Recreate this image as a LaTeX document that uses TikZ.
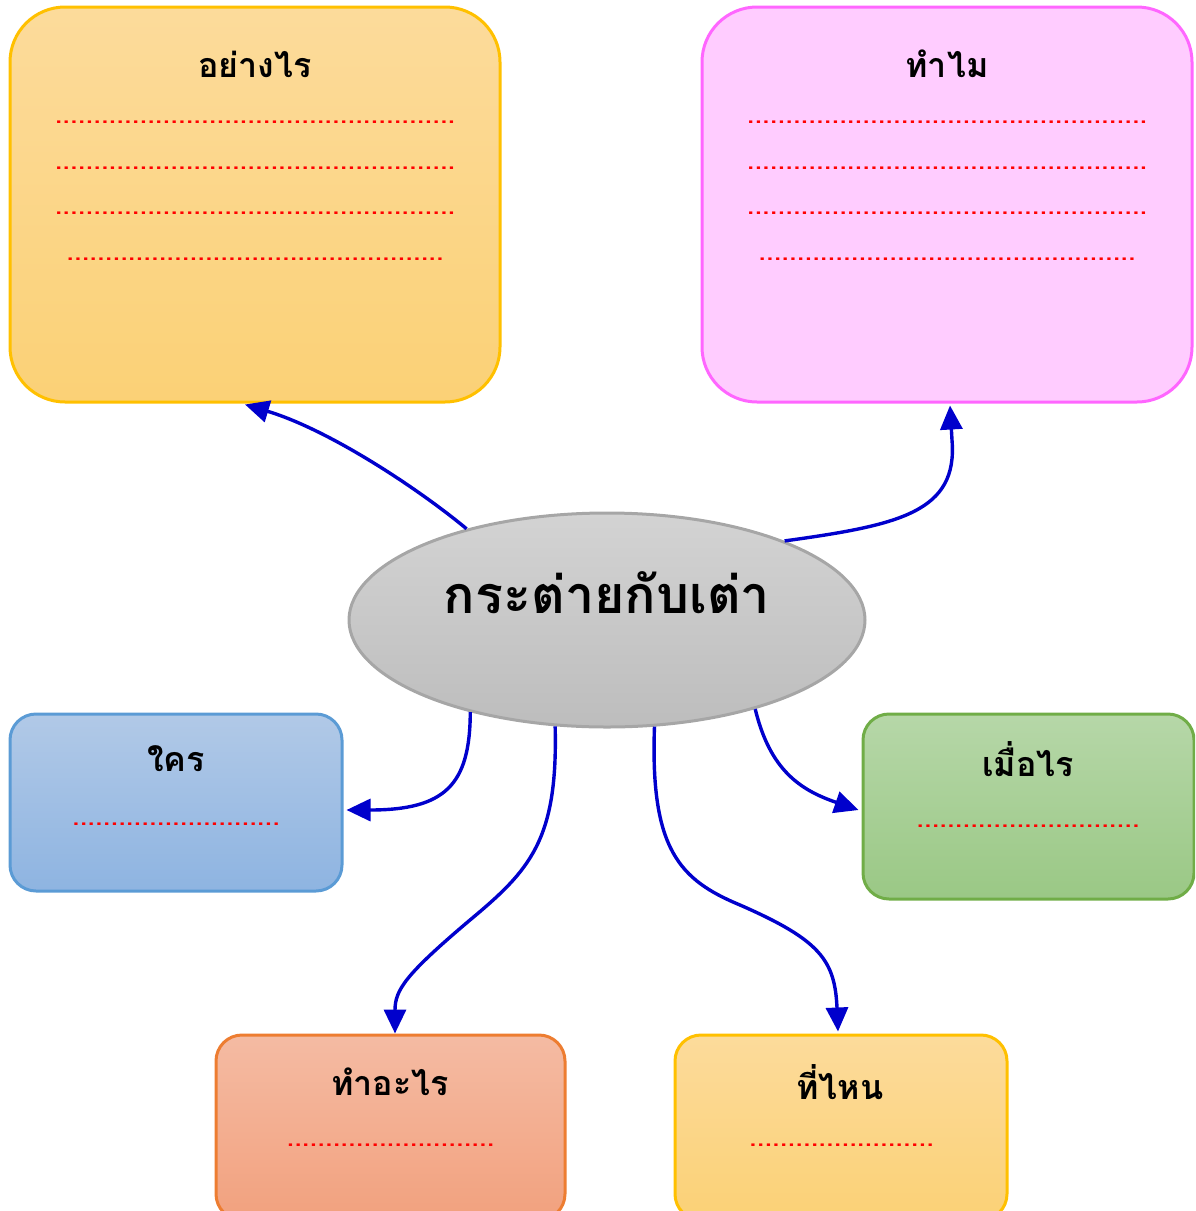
\documentclass[tikz,border=0pt]{standalone}
\usepackage{fontspec}
\newfontfamily\thai[Script=Thai]{Loma}
\usetikzlibrary{arrows.meta,shapes.geometric,calc}
\definecolor{arrowblue}{HTML}{0000CC}
\definecolor{ylTop}{HTML}{FCDB9B}
\definecolor{ylBot}{HTML}{FBD176}
\definecolor{ylBorder}{HTML}{FFC000}
\definecolor{pkFill}{HTML}{FFCCFF}
\definecolor{pkBorder}{HTML}{FF66FF}
\definecolor{gyTop}{HTML}{D3D3D3}
\definecolor{gyBot}{HTML}{BDBDBD}
\definecolor{gyBorder}{HTML}{A6A6A6}
\definecolor{blTop}{HTML}{B1C9E7}
\definecolor{blBot}{HTML}{8EB4E1}
\definecolor{blBorder}{HTML}{5B9BD5}
\definecolor{grTop}{HTML}{B6D7A8}
\definecolor{grBot}{HTML}{9AC885}
\definecolor{grBorder}{HTML}{70AD47}
\definecolor{orTop}{HTML}{F4BBA3}
\definecolor{orBot}{HTML}{F2A17E}
\definecolor{orBorder}{HTML}{ED7D31}
\newcommand{\dotrow}[1]{\hbox to #1{\cleaders\hbox to 3.85pt{\hss.\hss}\hfill}}
\tikzset{
  bigbox/.style={draw, line width=1.5pt, rounded corners=27.5pt, inner sep=0pt},
  smallbox/.style={draw, line width=1.5pt, rounded corners=13pt, inner sep=0pt},
  title/.style={font=\thai\bfseries\fontsize{17}{20}\selectfont, text=black, inner sep=0pt},
  dotline/.style={font=\thai\bfseries\fontsize{12}{14}\selectfont, text=red, inner sep=0pt},
  link/.style={draw=arrowblue, line width=1.7pt, -{Triangle[length=12pt,width=11pt]}}
}
\begin{document}
\begin{tikzpicture}[x=0.5pt,y=-0.5pt]
\useasboundingbox (0,0) rectangle (1195,1211);
\clip (0,0) rectangle (1195,1211);
% boxes
\node[bigbox, draw=ylBorder, top color=ylTop, bottom color=ylBot, minimum width=245pt, minimum height=197.5pt] (how) at (255,204.5) {};
\node[bigbox, draw=pkBorder, fill=pkFill, minimum width=245pt, minimum height=197.5pt] (why) at (947,204.5) {};
\node[smallbox, draw=blBorder, top color=blTop, bottom color=blBot, minimum width=166pt, minimum height=88.5pt] (who) at (176,802.5) {};
\node[smallbox, draw=grBorder, top color=grTop, bottom color=grBot, minimum width=165.5pt, minimum height=92.5pt] (when) at (1028.5,806.5) {};
\node[smallbox, draw=orBorder, top color=orTop, bottom color=orBot, minimum width=174.5pt, minimum height=92.5pt] (what) at (390.5,1127.5) {};
\node[smallbox, draw=ylBorder, top color=ylTop, bottom color=ylBot, minimum width=166pt, minimum height=92.5pt] (where) at (841,1127.5) {};
\node[ellipse, draw=gyBorder, line width=1.5pt, top color=gyTop, bottom color=gyBot, minimum width=258pt, minimum height=107pt, inner sep=0pt] (center) at (607,620) {};
% titles
\node[title] (howT) at (255,64) {อย่างไร};
\node[title] (whyT) at (947,64) {ทำไม};
\node[title] (whoT) at (176,759) {ใคร};
\node[title] (whenT) at (1028,759) {เมื่อไร};
\node[title] (whatT) at (390,1082) {ทำอะไร};
\node[title] (whereT) at (840,1082) {ที่ไหน};
\node[font=\thai\bfseries\fontsize{26}{30}\selectfont, inner sep=0pt] (centerT) at (607,593) {กระต่ายกับเต่า};
% dotted lines
\node[dotline] (how1) at (255,122) {\dotrow{203pt}};
\node[dotline] (how2) at (255,168) {\dotrow{203pt}};
\node[dotline] (how3) at (255,213) {\dotrow{203pt}};
\node[dotline] (how4) at (255,259) {\dotrow{191pt}};
\node[dotline] (why1) at (947,122) {\dotrow{203pt}};
\node[dotline] (why2) at (947,168) {\dotrow{203pt}};
\node[dotline] (why3) at (947,213) {\dotrow{203pt}};
\node[dotline] (why4) at (947,259) {\dotrow{191pt}};
\node[dotline] (who1) at (176,824) {\dotrow{106pt}};
\node[dotline] (when1) at (1028,826) {\dotrow{115pt}};
\node[dotline] (what1) at (390.5,1145) {\dotrow{106.5pt}};
\node[dotline] (where1) at (841.5,1145) {\dotrow{92.5pt}};
% connectors
\draw[link] (center.147.6) .. controls (420,490) and (330,430) .. ($(how.south)+(-10,1)$);
\draw[link] (center.24) .. controls (900,525) and (958,512) .. (952,440) -- ($(why.south)+(3,2)$);
\draw[link] (center.-146) .. controls (470,785) and (445,810) .. ($(who.east)+(3,7.5)$);
\draw[link] (center.-116) .. controls (558,840) and (530,870) .. (470,920) .. controls (405,975) and (395,990) .. ($(what.north)+(4.5,0)$);
\draw[link] (center.-66.7) .. controls (650,850) and (680,880) .. (740,905) .. controls (820,940) and (835,960) .. ($(where.north)+(-3,-2)$);
\draw[link] (center.-31.8) .. controls (770,770) and (800,790) .. ($(when.west)+(-3,3.5)$);
\end{tikzpicture}
\end{document}
